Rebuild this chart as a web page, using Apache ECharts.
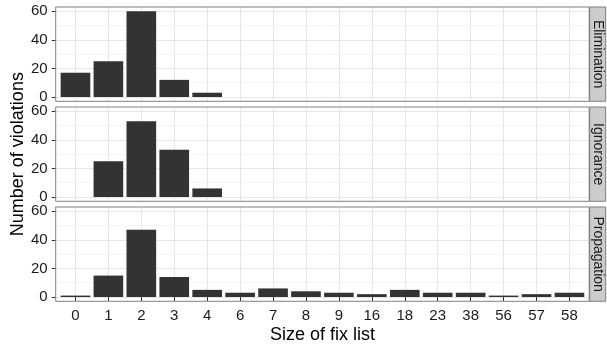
<!DOCTYPE html>
<html>
<head>
<meta charset="utf-8">
<script src="https://cdn.jsdelivr.net/npm/echarts@6/dist/echarts.min.js"></script>
<style>html,body{margin:0;padding:0;background:#fff;}#chart{width:607px;height:348px;}</style>
</head>
<body>
<div id="chart"></div>
<script>
// ---- data ----
const categories = ['0','1','2','3','4','6','7','8','9','16','18','23','38','56','57','58'];
const panelNames = ['Elimination','Ignorance','Propagation'];
const elimination = [17, 25, 60, 12, 3, null, null, null, null, null, null, null, null, null, null, null];
const ignorance   = [null, 25, 53, 33, 6, null, null, null, null, null, null, null, null, null, null, null];
const propagation = [1, 15, 47, 14, 5, 3, 6, 4, 3, 2, 5, 3, 3, 1, 2, 3];
const yTickValues = [0, 20, 40, 60];
const xTitle = 'Size of fix list';
const yTitle = 'Number of violations';

// ---- layout ----
const font = '"Liberation Sans", Arial, Helvetica, sans-serif';
const panelSeries = [elimination, ignorance, propagation];
const L = 55.7, R = 589.2;
const PW = R - L;
const unit = PW / (categories.length + 0.2);
const yMin = -3, yMax = 63;
const PH = 94.3;
const pxPerUnit = PH / (yMax - yMin);
const panelTop = [7, 107, 207];

const grids = [], xAxes = [], yAxes = [], series = [], graphics = [];

panelNames.forEach((name, p) => {
  const T = panelTop[p];
  const isLast = p === panelNames.length - 1;
  const gBase = grids.length;
  // A: panel border
  grids.push({left: L, top: T, width: PW, height: PH, show: true, borderColor: '#7f7f7f', borderWidth: 1,
    backgroundColor: 'transparent', containLabel: false, outerBoundsMode: 'none', z: 5});
  xAxes.push({gridIndex: gBase, type: 'value', show: false, min: 0, max: 1});
  yAxes.push({gridIndex: gBase, type: 'value', show: false, min: 0, max: 1});
  // H: horizontal grid lines + y axis
  const topH = T + (yMax - yTickValues[yTickValues.length - 1]) * pxPerUnit;
  const hH = (yTickValues[yTickValues.length - 1] - yTickValues[0]) * pxPerUnit;
  grids.push({left: L, top: topH, width: PW, height: hH, show: false, containLabel: false, outerBoundsMode: 'none'});
  xAxes.push({gridIndex: gBase + 1, type: 'value', show: false, min: 0, max: 1});
  yAxes.push({gridIndex: gBase + 1, type: 'value', min: yTickValues[0], max: yTickValues[yTickValues.length - 1],
    interval: yTickValues[1] - yTickValues[0],
    axisLine: {show: false},
    axisTick: {show: true, length: 4, inside: false, lineStyle: {color: '#333', width: 1}},
    axisLabel: {show: true, margin: 8, fontSize: 15, color: '#1a1a1a', fontFamily: font},
    splitLine: {show: true, lineStyle: {color: '#e6e6e6', width: 1}},
    minorTick: {show: false, splitNumber: 2},
    minorSplitLine: {show: true, lineStyle: {color: '#f4f4f4', width: 1}}
  });
  // V: bars + vertical grid lines + x axis
  grids.push({left: L + 0.6 * unit, top: T, width: (categories.length - 1) * unit, height: PH, show: false,
    containLabel: false, outerBoundsMode: 'none'});
  xAxes.push({gridIndex: gBase + 2, type: 'category', data: categories, boundaryGap: false,
    axisLine: {show: false},
    axisTick: {show: isLast, length: 4, inside: false, interval: 0, lineStyle: {color: '#333', width: 1}},
    axisLabel: {show: isLast, interval: 0, margin: 7, fontSize: 15, color: '#1a1a1a', fontFamily: font},
    splitLine: {show: true, interval: 0, lineStyle: {color: '#e6e6e6', width: 1}}
  });
  yAxes.push({gridIndex: gBase + 2, type: 'value', show: false, min: yMin, max: yMax});
  series.push({type: 'bar', name: name, xAxisIndex: gBase + 2, yAxisIndex: gBase + 2,
    data: panelSeries[p], barWidth: 0.9 * unit, clip: false, z: 3,
    itemStyle: {color: '#333333'}, silent: true, animation: false});
  // strip
  graphics.push({type: 'rect', shape: {x: R + 0.5, y: T, width: 16, height: PH},
    style: {fill: '#cccccc', stroke: '#7f7f7f', lineWidth: 1}, silent: true});
  graphics.push({type: 'text', x: R + 8.5, y: T + PH / 2, rotation: -Math.PI / 2,
    style: {text: name, fontSize: 14, fontFamily: font, fill: '#1a1a1a', align: 'center', verticalAlign: 'middle'}, silent: true});
});

graphics.push({type: 'text', x: 18.5, y: (panelTop[0] + panelTop[2] + PH) / 2, rotation: Math.PI / 2,
  style: {text: yTitle, fontSize: 18, fontFamily: font, fill: '#000', align: 'center', verticalAlign: 'middle'}, silent: true});
graphics.push({type: 'text', x: L + PW / 2, y: 335.5,
  style: {text: xTitle, fontSize: 18, fontFamily: font, fill: '#000', align: 'center', verticalAlign: 'middle'}, silent: true});

const chart = echarts.init(document.getElementById('chart'), null, {renderer: 'canvas'});
chart.setOption({
  animation: false,
  backgroundColor: '#ffffff',
  textStyle: {fontFamily: font},
  grid: grids,
  xAxis: xAxes,
  yAxis: yAxes,
  series: series,
  graphic: graphics
});
</script>
</body>
</html>
